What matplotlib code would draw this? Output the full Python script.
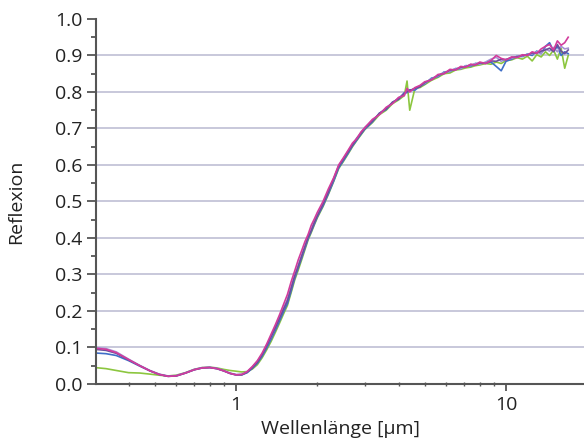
import numpy as np
import matplotlib
matplotlib.use("Agg")
import matplotlib.pyplot as plt
from matplotlib.ticker import FixedLocator, FixedFormatter, LogLocator, NullFormatter, MultipleLocator

plt.rcParams['font.family'] = ['Open Sans', 'DejaVu Sans']

# wavelength grid [um]
wl = [0.30, 0.33, 0.36, 0.40, 0.44, 0.48, 0.52, 0.56, 0.60, 0.65, 0.70, 0.75, 0.80, 0.85,
      0.90, 0.95, 1.00, 1.05, 1.10, 1.15, 1.20, 1.25, 1.30, 1.35, 1.40, 1.45, 1.50,
      1.55, 1.60, 1.65, 1.70, 1.75, 1.80, 1.85, 1.90, 1.95, 2.0, 2.1, 2.2, 2.3, 2.4,
      2.5, 2.6, 2.7, 2.8, 2.9, 3.0, 3.2, 3.4, 3.6, 3.8, 4.0, 4.2, 4.3, 4.4, 4.6, 4.8,
      5.0, 5.3, 5.6, 5.9, 6.2, 6.5, 6.8, 7.1, 7.4, 7.7, 8.0, 8.4, 8.8, 9.2, 9.6, 10.0,
      10.5, 11.0, 11.5, 12.0, 12.5, 13.0, 13.5, 14.0, 14.5, 15.0, 15.5, 16.0, 16.5, 17.0]

r_green = [0.045, 0.042, 0.037, 0.031, 0.030, 0.027, 0.024, 0.022, 0.024, 0.031, 0.040, 0.045, 0.046, 0.044,
           0.040, 0.037, 0.035, 0.033, 0.034, 0.041, 0.053, 0.072, 0.094, 0.117, 0.142, 0.167, 0.192,
           0.215, 0.25, 0.285, 0.312, 0.34, 0.368, 0.395, 0.415, 0.436, 0.455, 0.486, 0.52, 0.555, 0.59,
           0.61, 0.63, 0.65, 0.667, 0.682, 0.697, 0.716, 0.738, 0.75, 0.768, 0.778, 0.79, 0.83, 0.75, 0.81, 0.812,
           0.82, 0.832, 0.84, 0.85, 0.852, 0.86, 0.862, 0.866, 0.868, 0.872, 0.874, 0.878, 0.876, 0.882, 0.878, 0.886,
           0.888, 0.894, 0.89, 0.898, 0.885, 0.902, 0.896, 0.91, 0.9, 0.915, 0.89, 0.92, 0.865, 0.9]

r_blue = [0.085, 0.083, 0.078, 0.064, 0.049, 0.036, 0.026, 0.021, 0.022, 0.030, 0.039, 0.044, 0.045, 0.042,
          0.036, 0.029, 0.025, 0.025, 0.031, 0.043, 0.057, 0.076, 0.099, 0.123, 0.148, 0.173, 0.198,
          0.22, 0.255, 0.29, 0.318, 0.345, 0.372, 0.398, 0.418, 0.438, 0.458, 0.488, 0.522, 0.556, 0.592,
          0.612, 0.632, 0.652, 0.668, 0.684, 0.698, 0.718, 0.742, 0.752, 0.772, 0.78, 0.798, 0.798, 0.806, 0.805, 0.816,
          0.822, 0.838, 0.842, 0.855, 0.856, 0.864, 0.864, 0.872, 0.87, 0.878, 0.878, 0.88, 0.882, 0.87, 0.858, 0.884,
          0.89, 0.898, 0.897, 0.904, 0.9, 0.912, 0.905, 0.925, 0.935, 0.912, 0.925, 0.9, 0.91, 0.905]

r_lavender = [0.100, 0.097, 0.088, 0.068, 0.051, 0.037, 0.027, 0.022, 0.023, 0.031, 0.040, 0.045, 0.046, 0.043,
              0.037, 0.030, 0.026, 0.027, 0.034, 0.047, 0.062, 0.082, 0.106, 0.13, 0.156, 0.182, 0.208,
              0.232, 0.266, 0.298, 0.326, 0.352, 0.378, 0.404, 0.424, 0.444, 0.462, 0.494, 0.528, 0.562, 0.598,
              0.618, 0.638, 0.656, 0.674, 0.688, 0.703, 0.722, 0.74, 0.757, 0.77, 0.784, 0.794, 0.802, 0.802, 0.81, 0.816,
              0.824, 0.836, 0.844, 0.854, 0.857, 0.864, 0.864, 0.872, 0.872, 0.878, 0.876, 0.882, 0.89, 0.895, 0.884, 0.89,
              0.892, 0.898, 0.898, 0.903, 0.904, 0.91, 0.906, 0.918, 0.912, 0.922, 0.91, 0.925, 0.918, 0.92]

r_purple = [0.095, 0.092, 0.084, 0.066, 0.050, 0.036, 0.026, 0.021, 0.022, 0.030, 0.039, 0.044, 0.045, 0.042,
            0.036, 0.029, 0.025, 0.025, 0.032, 0.045, 0.060, 0.080, 0.105, 0.13, 0.155, 0.18, 0.205,
            0.228, 0.262, 0.296, 0.322, 0.35, 0.376, 0.402, 0.42, 0.442, 0.46, 0.492, 0.526, 0.562, 0.596,
            0.616, 0.636, 0.654, 0.672, 0.686, 0.701, 0.72, 0.742, 0.754, 0.772, 0.781, 0.796, 0.801, 0.804, 0.81, 0.814,
            0.826, 0.834, 0.846, 0.851, 0.86, 0.861, 0.868, 0.869, 0.875, 0.874, 0.88, 0.878, 0.885, 0.884, 0.89, 0.888,
            0.895, 0.896, 0.9, 0.901, 0.907, 0.906, 0.912, 0.915, 0.92, 0.91, 0.93, 0.912, 0.905, 0.915]

r_magenta = [0.098, 0.095, 0.086, 0.067, 0.050, 0.036, 0.026, 0.021, 0.022, 0.030, 0.039, 0.044, 0.045, 0.042,
             0.036, 0.029, 0.025, 0.026, 0.034, 0.048, 0.064, 0.085, 0.11, 0.137, 0.163, 0.19, 0.218,
             0.245, 0.28, 0.31, 0.34, 0.365, 0.39, 0.41, 0.435, 0.452, 0.47, 0.50, 0.535, 0.565, 0.60,
             0.62, 0.64, 0.66, 0.672, 0.69, 0.702, 0.725, 0.738, 0.758, 0.768, 0.785, 0.79, 0.81, 0.80, 0.812, 0.818,
             0.828, 0.833, 0.848, 0.85, 0.862, 0.86, 0.87, 0.868, 0.876, 0.874, 0.882, 0.878, 0.886, 0.9, 0.892, 0.888,
             0.896, 0.894, 0.902, 0.9, 0.91, 0.906, 0.918, 0.925, 0.93, 0.915, 0.94, 0.928, 0.935, 0.95]

series = [(r_green, '#8cc63f'), (r_blue, '#3f6fc8'), (r_lavender, '#a592d4'),
          (r_purple, '#6b4f9c'), (r_magenta, '#d23c9c')]

yticks = [0.0, 0.1, 0.2, 0.3, 0.4, 0.5, 0.6, 0.7, 0.8, 0.9, 1.0]
grid_y = [0.1, 0.2, 0.3, 0.4, 0.5, 0.6, 0.7, 0.8, 0.9]

fig = plt.figure(figsize=(5.84, 4.41), dpi=100)
ax = fig.add_axes([0.1644, 0.1293, 0.8356, 0.8277])

for g in grid_y:
    ax.axhline(g, color='#c4c4d8', lw=1.3, zorder=0)

for r, c in series:
    ax.plot(wl, r, color=c, lw=1.2)

ax.set_xscale('log')
ax.set_xlim(0.303, 19.45)
ax.set_ylim(0, 1.0)

ax.xaxis.set_major_locator(FixedLocator([1, 10]))
ax.xaxis.set_major_formatter(FixedFormatter(['1', '10']))
ax.xaxis.set_minor_locator(LogLocator(base=10, subs=range(2, 10)))
ax.xaxis.set_minor_formatter(NullFormatter())
ax.set_yticks(yticks)
ax.set_yticklabels([f'{v:.1f}' for v in yticks])
ax.yaxis.set_minor_locator(MultipleLocator(0.05))

for s in ['top', 'right']:
    ax.spines[s].set_visible(False)
for s in ['left', 'bottom']:
    ax.spines[s].set_color('#555555')
    ax.spines[s].set_linewidth(1.5)

ax.tick_params(axis='both', which='major', labelsize=14, colors='#555555', labelcolor='#222222', pad=3.5)
ax.tick_params(axis='y', which='major', length=6.5, width=1.3)
ax.tick_params(axis='y', which='minor', length=3.5, width=1.3, colors='#555555')
ax.tick_params(axis='x', which='major', length=5, width=1.3)
ax.tick_params(axis='x', which='minor', direction='inout', length=3.5, width=1.0, colors='#555555')

ax.set_xlabel('Wellenlänge [µm]', fontsize=14, color='#222222')
ax.set_ylabel('Reflexion', fontsize=14, color='#222222')
ax.yaxis.set_label_coords(-0.1455, 0.5)
ax.xaxis.set_label_coords(0.502, -0.1)

fig.savefig('out.png', dpi=100)
